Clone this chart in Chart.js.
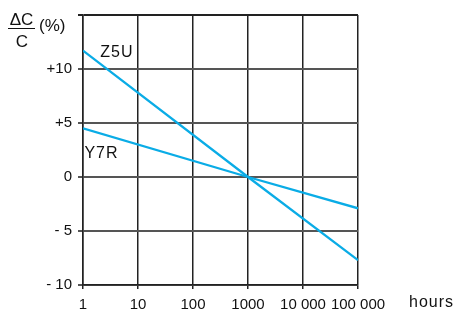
<!DOCTYPE html>
<html>
<head>
<meta charset="utf-8">
<script src="https://cdn.jsdelivr.net/npm/chart.js@4"></script>
<style>
  body { margin: 0; background: #fff; }
  #wrap { position: relative; width: 458px; height: 312px; }
</style>
</head>
<body>
<div id="wrap"><canvas id="grafico" width="458" height="312"></canvas></div>
<script>
const hours = [1, 1000, 100000];
const z5u = [11.7, 0, -7.7];
const y7r = [4.5, 0, -2.9];
const xTicks = [1, 10, 100, 1000, 10000, 100000];
const xTickLabels = ['1', '10', '100', '1000', '10 000', '100 000'];
const yTickLabels = { '-10': '- 10', '-5': '- 5', '0': '0', '5': '+5', '10': '+10', '15': '' };

const blue = 'rgb(10, 172, 230)';
const font = "'Liberation Sans', Arial, sans-serif";

// textos sobre el grafico
const etiquetas = {
  id: 'etiquetas',
  afterDraw(chart) {
    const c = chart.ctx;
    const x = chart.scales.x, y = chart.scales.y;
    c.save();
    c.fillStyle = '#111';
    c.textBaseline = 'alphabetic';
    c.textAlign = 'left';
    c.font = '16px ' + font;
    c.letterSpacing = '1px';
    c.fillText('Z5U', x.getPixelForValue(2.06), y.getPixelForValue(11.1));
    c.fillText('Y7R', x.getPixelForValue(1.06), y.getPixelForValue(1.75));
    c.fillText('hours', 409, 307);
    // ΔC / C (%)
    c.font = '17px ' + font;
    c.letterSpacing = '0px';
    c.textAlign = 'center';
    c.fillText('\u0394C', 21.5, 25);
    c.fillText('C', 22, 47);
    c.fillRect(8, 28, 27, 1);
    c.textAlign = 'left';
    c.fillText('(%)', 39, 31);
    c.restore();
  }
};

const ctx = document.getElementById('grafico').getContext('2d');
new Chart(ctx, {
  type: 'line',
  data: {
    labels: hours,
    datasets: [
      { label: 'Z5U', data: hours.map((h, i) => ({ x: h, y: z5u[i] })), borderColor: blue, borderWidth: 2.3, pointRadius: 0, tension: 0 },
      { label: 'Y7R', data: hours.map((h, i) => ({ x: h, y: y7r[i] })), borderColor: blue, borderWidth: 2.3, pointRadius: 0, tension: 0 }
    ]
  },
  options: {
    responsive: false,
    animation: false,
    devicePixelRatio: 1,
    layout: { padding: { left: 0, top: 13, right: 100, bottom: 0 } },
    plugins: { legend: { display: false }, tooltip: { enabled: false } },
    scales: {
      x: {
        type: 'logarithmic',
        min: 1,
        max: 100000,
        afterBuildTicks: (s) => { s.ticks = xTicks.map(v => ({ value: v })); },
        afterFit: (s) => { s.height = 27; },
        border: { color: '#222', width: 1.5 },
        grid: { color: '#222', lineWidth: 1.5, tickLength: 4, drawTicks: true },
        ticks: {
          color: '#111',
          font: { family: font, size: 15 },
          padding: 7,
          maxRotation: 0,
          autoSkip: false,
          callback: (v) => xTickLabels[xTicks.indexOf(v)]
        }
      },
      y: {
        min: -10,
        max: 15,
        afterFit: (s) => { s.width = 83; },
        border: { color: '#222', width: 1.5 },
        grid: { color: (c) => c.tick && c.tick.value === 15 ? '#222' : '#555', lineWidth: 2, tickLength: 5 },
        ticks: {
          stepSize: 5,
          color: '#111',
          font: { family: font, size: 15 },
          padding: 6,
          callback: (v) => yTickLabels[String(v)]
        }
      }
    }
  },
  plugins: [etiquetas]
});
</script>
</body>
</html>
